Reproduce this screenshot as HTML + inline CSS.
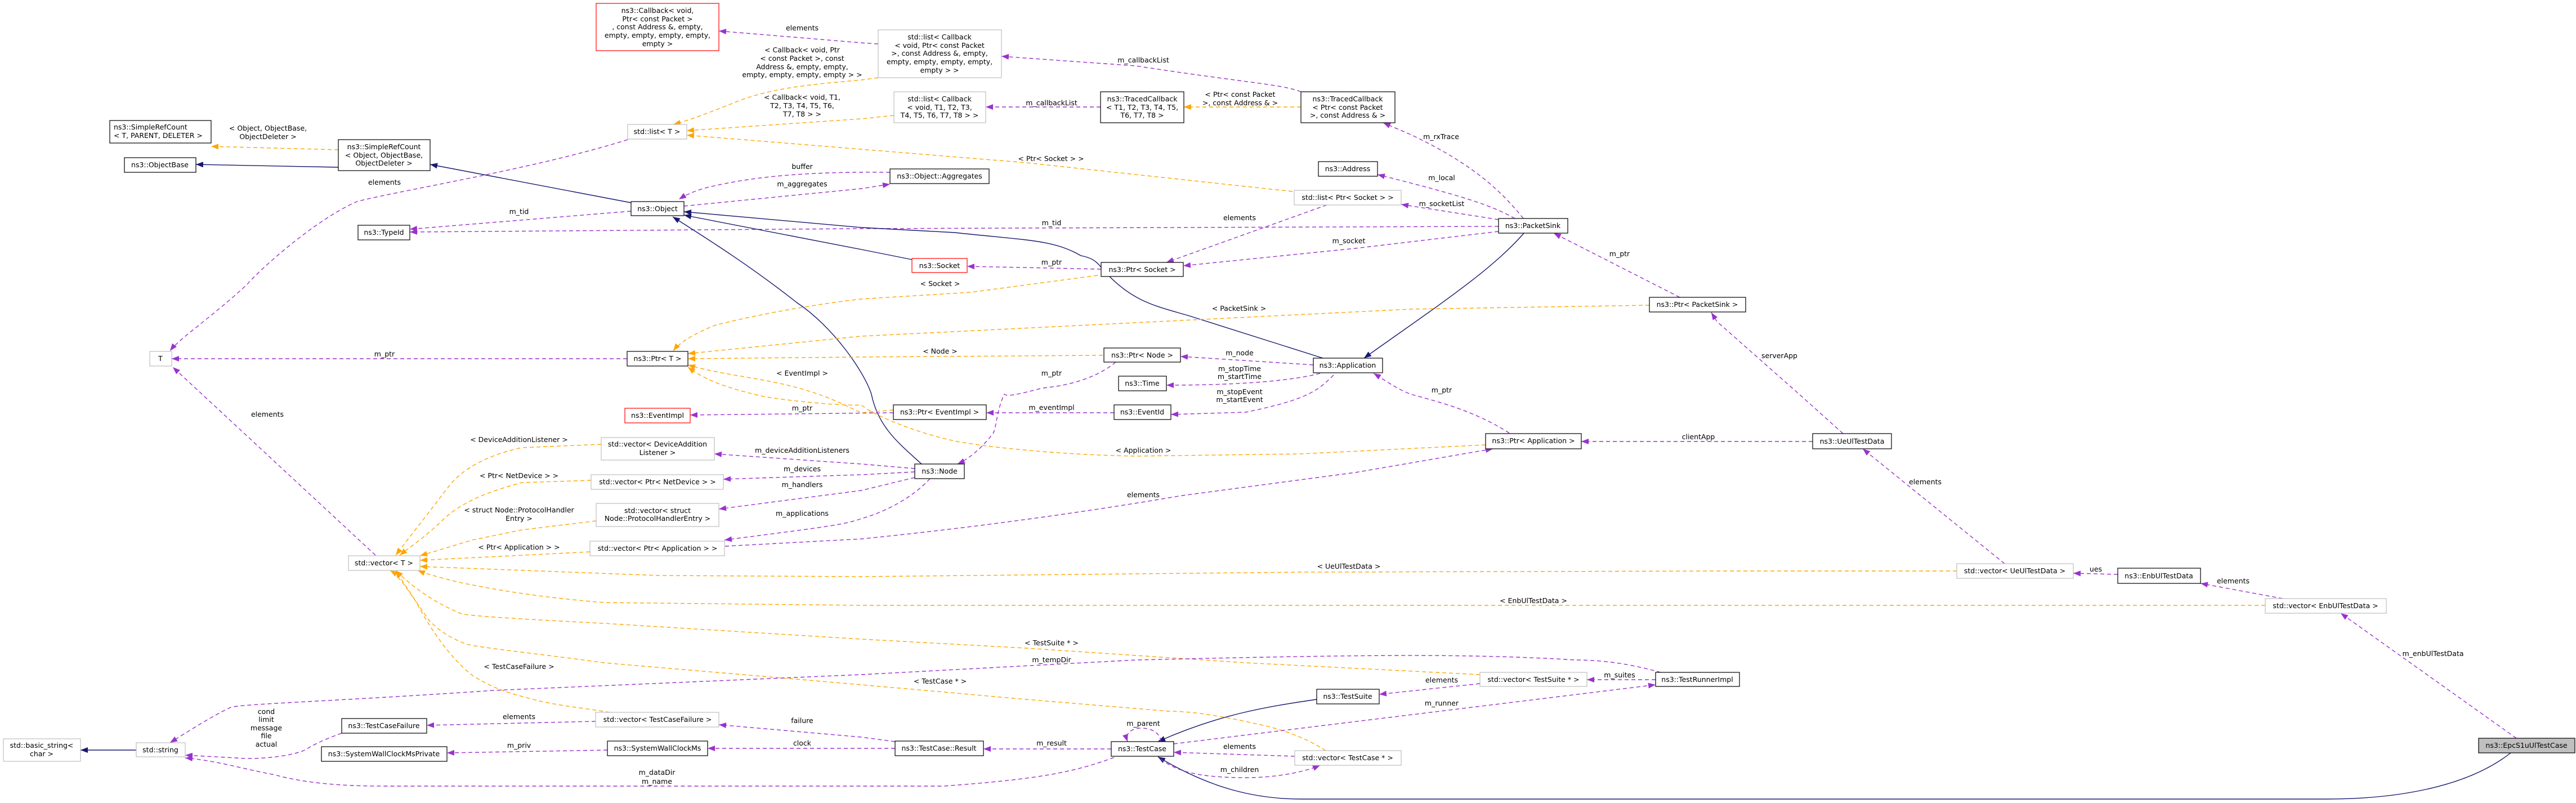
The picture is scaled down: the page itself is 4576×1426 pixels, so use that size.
<!DOCTYPE html>
<html><head><meta charset="utf-8"><style>
html,body{margin:0;padding:0;background:#fff}
svg{display:block}
text{font-family:"DejaVu Sans","Liberation Sans",sans-serif;font-size:12.5px;fill:#000}
.nd text,.l{text-anchor:middle}
.b{fill:#fff;stroke:#000;stroke-width:1.2}
.g{fill:#fff;stroke:#bfbfbf;stroke-width:1.2}
.r{fill:#fff;stroke:#ff0000;stroke-width:1.2}
.p{fill:none;stroke:#9a32cd;stroke-width:1.4;stroke-dasharray:7,5;marker-end:url(#mp)}
.o{fill:none;stroke:#ffa500;stroke-width:1.4;stroke-dasharray:7,5;marker-end:url(#mo)}
.n{fill:none;stroke:#191970;stroke-width:1.4;marker-end:url(#mn)}
</style></head><body>
<svg width="4576" height="1426" viewBox="0 0 4576 1426" xmlns="http://www.w3.org/2000/svg">
<defs>
<marker id="mp" markerUnits="userSpaceOnUse" markerWidth="13" markerHeight="10" refX="13" refY="5" orient="auto"><path d="M0,0L13,5L0,10z" fill="#9a32cd"/></marker>
<marker id="mo" markerUnits="userSpaceOnUse" markerWidth="13" markerHeight="10" refX="13" refY="5" orient="auto"><path d="M0,0L13,5L0,10z" fill="#ffa500"/></marker>
<marker id="mn" markerUnits="userSpaceOnUse" markerWidth="13" markerHeight="10" refX="13" refY="5" orient="auto"><path d="M0,0L13,5L0,10z" fill="#191970"/></marker>
</defs>

<!-- edges -->
<path class="o" d="M601,266 L375,260"/>
<path class="n" d="M601,297 L348,292"/>
<path class="n" d="M1121,360 L764,292"/>
<path class="p" d="M1115,248 C950,300 700,340 634,358 C560,390 460,480 439,505 C380,560 320,600 302,623"/>
<path class="p" d="M667,986 L361,702 L307,652"/>
<path class="p" d="M1114,637 L305,637"/>
<path class="p" d="M1121,375 L728,407"/>
<path class="p" d="M2662,402 L1530,406 L728,412"/>
<path class="p" d="M1581,306 C1480,305 1366,308 1269,330 C1240,336 1220,345 1206,354"/>
<path class="p" d="M1215,366 L1530,335 L1581,327"/>
<path class="n" d="M1637,824 C1600,790 1560,760 1548,700 C1535,660 1480,580 1415,537 C1330,470 1250,420 1195,385"/>
<path class="n" d="M1620,461 L1530,443 L1215,382"/>
<path class="n" d="M2350,636 L2116,562 C2060,545 2018,539 1970,490 C1950,470 1950,460 1920,454 C1870,425 1823,427 1696,413 L1530,404 L1215,376"/>
<path class="n" d="M2707,414 C2650,480 2555,542 2423,636"/>
<path class="n" d="M2339,1242 C2250,1255 2164,1269 2057,1317"/>
<path class="n" d="M4460,1337 C4380,1400 4250,1419 4133,1419 L2311,1419 C2230,1419 2150,1400 2057,1344"/>

<path class="o" d="M1560,138 L1530,142 C1440,150 1366,156 1300,184 C1260,200 1220,215 1196,221"/>
<path class="o" d="M1588,205 L1530,211 L1220,232"/>
<path class="o" d="M2296,340 L1823,289 L1530,265 L1220,240"/>
<path class="p" d="M1560,78 L1530,76 L1277,55"/>
<path class="p" d="M2311,163 C2280,150 2213,147 2018,117 L1779,100"/>
<path class="p" d="M1955,190 L1751,190"/>
<path class="o" d="M2311,190 L2103,190"/>
<path class="p" d="M2706,388 C2660,330 2603,285 2506,239 L2457,218"/>
<path class="p" d="M2691,388 C2650,365 2603,349 2447,310"/>
<path class="p" d="M2662,390 L2489,363"/>
<path class="p" d="M2357,364 L2072,466"/>
<path class="p" d="M2662,411 L2408,441 L2102,472"/>
<path class="p" d="M1956,478 L1718,473"/>
<path class="o" d="M1950,489 L1725,519 L1530,531 C1400,546 1300,570 1269,578 C1240,590 1210,605 1196,623"/>
<path class="o" d="M2930,542 L2506,549 L1530,597 L1222,628"/>
<path class="p" d="M2984,528 L2760,414"/>
<path class="p" d="M3274,770 L3196,700 L3050,571 L3040,555"/>
<path class="o" d="M1959,631 L1530,634 L1222,637"/>
<path class="p" d="M2333,648 L2097,633"/>
<path class="p" d="M2345,663 C2300,675 2213,684 2072,684"/>
<path class="p" d="M2369,666 C2340,695 2320,710 2213,732 L2080,736"/>
<path class="p" d="M1982,643 C1950,670 1900,685 1852,689 C1810,700 1790,705 1784,700 C1770,730 1770,760 1764,770 C1740,800 1720,815 1701,824"/>
<path class="p" d="M1587,733 L1226,737"/>
<path class="p" d="M1979,733 L1752,733"/>
<path class="o" d="M1587,728 L1530,733 C1500,720 1460,695 1366,677 C1320,668 1260,660 1222,648"/>
<path class="o" d="M2639,790 L2311,806 L2018,810 C1900,808 1774,797 1700,784 C1628,769 1550,737 1530,719 C1500,722 1380,710 1347,702 C1300,690 1260,680 1222,652"/>
<path class="p" d="M2681,769 C2620,730 2560,715 2506,700 C2480,690 2460,675 2440,663"/>
<path class="p" d="M3220,784 L2809,784"/>
<path class="p" d="M1288,970 L1530,957 C1800,930 2018,894 2100,880 L2408,839 L2652,797"/>
<path class="p" d="M1625,832 L1530,824 L1269,806"/>
<path class="p" d="M1625,838 L1530,843 L1285,851"/>
<path class="p" d="M1625,848 L1530,871 L1277,904"/>
<path class="p" d="M1652,850 C1620,885 1570,910 1530,921 C1500,932 1464,936 1287,959"/>

<path class="o" d="M1068,789 L927,795 C880,805 830,825 800,860 C770,900 730,950 703,986"/>
<path class="o" d="M1050,853 L927,857 C880,870 830,885 790,920 C760,950 730,970 710,986"/>
<path class="o" d="M1059,925 L927,941 L839,959 L746,987"/>
<path class="o" d="M1048,980 L746,995"/>
<path class="o" d="M3476,1014 L3060,1014 L2311,1016 L1530,1024 L1171,1022 L746,1006"/>
<path class="o" d="M4024,1075 L1530,1075 L1073,1070 C950,1060 880,1047 820,1035 C790,1028 760,1020 742,1013"/>
<path class="o" d="M2629,1198 L2213,1177 L1823,1151 L1530,1135 L1073,1107 C900,1098 840,1094 820,1090 C770,1070 730,1040 703,1013"/>
<path class="o" d="M2355,1333 C2320,1310 2280,1297 2252,1290 C2180,1273 2120,1263 2076,1263 L1823,1242 L1530,1216 L1073,1177 C950,1160 850,1150 829,1144 C790,1130 770,1110 761,1100 C740,1070 720,1040 703,1013"/>
<path class="o" d="M1083,1265 C1020,1255 976,1251 940,1240 C900,1230 878,1223 840,1200 C800,1170 760,1110 740,1070 C720,1040 705,1020 693,1013"/>

<path class="p" d="M1058,1281 L758,1288"/>
<path class="p" d="M1590,1317 L1530,1309 L1277,1287"/>
<path class="p" d="M1590,1329 L1257,1329"/>
<path class="p" d="M1079,1332 L794,1337"/>
<path class="p" d="M607,1302 C580,1312 561,1320 545,1330 C530,1340 470,1350 420,1346 L329,1341"/>
<path class="p" d="M1979,1345 C1900,1375 1823,1385 1676,1396 L683,1396 C600,1396 540,1390 488,1376 C430,1365 380,1350 329,1346"/>
<path class="n" d="M242,1332 L143,1332"/>
<path class="p" d="M2950,1194 C2900,1180 2850,1172 2799,1172 C2600,1160 2408,1163 2018,1172 L1530,1198 L878,1226 C600,1245 430,1250 410,1256 C380,1270 340,1295 302,1319"/>
<path class="p" d="M1974,1330 L1747,1330"/>
<path class="p" d="M2062,1317 C2062,1302 2045,1293 2028,1293 C2010,1293 1998,1302 2003,1317"/>
<path class="p" d="M2300,1343 L2085,1336"/>
<path class="p" d="M2062,1348 C2090,1370 2130,1381 2213,1381 C2270,1381 2320,1370 2345,1359"/>
<path class="p" d="M2085,1321 L2941,1216"/>
<path class="p" d="M2629,1214 L2450,1233"/>
<path class="p" d="M2941,1207 L2819,1207"/>
<path class="p" d="M3561,1001 L3309,797"/>
<path class="p" d="M3762,1020 L3683,1018"/>
<path class="p" d="M4055,1063 L3909,1036"/>
<path class="p" d="M4470,1311 L4158,1089"/>

<!-- edge labels -->
<g class="l">
<text x="476" y="232">&lt; Object, ObjectBase,</text><text x="476" y="247">ObjectDeleter &gt;</text>
<text x="683" y="328">elements</text>
<text x="475" y="740">elements</text>
<text x="683" y="633">m_ptr</text>
<text x="922" y="380">m_tid</text>
<text x="1868" y="400">m_tid</text>
<text x="1425" y="300">buffer</text>
<text x="1425" y="331">m_aggregates</text>
<text x="1425" y="54">elements</text>
<text x="1425" y="93">&lt; Callback&lt; void, Ptr</text>
<text x="1425" y="108">&lt; const Packet &gt;, const</text>
<text x="1425" y="123">Address &amp;, empty, empty,</text>
<text x="1425" y="137">empty, empty, empty, empty &gt; &gt;</text>
<text x="1425" y="177">&lt; Callback&lt; void, T1,</text>
<text x="1425" y="192">T2, T3, T4, T5, T6,</text>
<text x="1425" y="207">T7, T8 &gt; &gt;</text>
<text x="1867" y="286">&lt; Ptr&lt; Socket &gt; &gt;</text>
<text x="2031" y="111">m_callbackList</text>
<text x="1868" y="187">m_callbackList</text>
<text x="2203" y="172">&lt; Ptr&lt; const Packet</text>
<text x="2203" y="187">&gt;, const Address &amp; &gt;</text>
<text x="2560" y="247">m_rxTrace</text>
<text x="2561" y="320">m_local</text>
<text x="2561" y="366">m_socketList</text>
<text x="2202" y="391">elements</text>
<text x="2396" y="432">m_socket</text>
<text x="1868" y="470">m_ptr</text>
<text x="1670" y="508">&lt; Socket &gt;</text>
<text x="2201" y="552">&lt; PacketSink &gt;</text>
<text x="2877" y="455">m_ptr</text>
<text x="3161" y="636">serverApp</text>
<text x="1670" y="628">&lt; Node &gt;</text>
<text x="2202" y="631">m_node</text>
<text x="2202" y="659">m_stopTime</text><text x="2202" y="673">m_startTime</text>
<text x="2202" y="700">m_stopEvent</text><text x="2202" y="714">m_startEvent</text>
<text x="1868" y="667">m_ptr</text>
<text x="1425" y="729">m_ptr</text>
<text x="1868" y="728">m_eventImpl</text>
<text x="1425" y="667">&lt; EventImpl &gt;</text>
<text x="2031" y="804">&lt; Application &gt;</text>
<text x="2561" y="697">m_ptr</text>
<text x="3017" y="780">clientApp</text>
<text x="2031" y="883">elements</text>
<text x="1425" y="804">m_deviceAdditionListeners</text>
<text x="1425" y="837">m_devices</text>
<text x="1425" y="865">m_handlers</text>
<text x="1425" y="916">m_applications</text>
<text x="922" y="785">&lt; DeviceAdditionListener &gt;</text>
<text x="922" y="849">&lt; Ptr&lt; NetDevice &gt; &gt;</text>
<text x="922" y="910">&lt; struct Node::ProtocolHandler</text><text x="922" y="925">Entry &gt;</text>
<text x="922" y="976">&lt; Ptr&lt; Application &gt; &gt;</text>
<text x="2396" y="1010">&lt; UeUlTestData &gt;</text>
<text x="2724" y="1071">&lt; EnbUlTestData &gt;</text>
<text x="1868" y="1146">&lt; TestSuite * &gt;</text>
<text x="1670" y="1214">&lt; TestCase * &gt;</text>
<text x="922" y="1188">&lt; TestCaseFailure &gt;</text>
<text x="922" y="1277">elements</text>
<text x="1425" y="1284">failure</text>
<text x="1425" y="1324">clock</text>
<text x="922" y="1328">m_priv</text>
<text x="473" y="1268">cond</text><text x="473" y="1282">limit</text><text x="473" y="1297">message</text><text x="473" y="1311">file</text><text x="473" y="1326">actual</text>
<text x="1167" y="1376">m_dataDir</text><text x="1167" y="1392">m_name</text>
<text x="1868" y="1176">m_tempDir</text>
<text x="1868" y="1324">m_result</text>
<text x="2031" y="1289">m_parent</text>
<text x="2202" y="1330">elements</text>
<text x="2202" y="1371">m_children</text>
<text x="2561" y="1253">m_runner</text>
<text x="2561" y="1212">elements</text>
<text x="2877" y="1203">m_suites</text>
<text x="3420" y="860">elements</text>
<text x="3723" y="1015">ues</text>
<text x="3967" y="1036">elements</text>
<text x="4322" y="1165">m_enbUlTestData</text>
</g>

<!-- nodes -->
<g class="nd">
<rect class="r" x="1059" y="6" width="218" height="84"/>
<text x="1168" y="23">ns3::Callback&lt; void,</text><text x="1168" y="38">Ptr&lt; const Packet &gt;</text><text x="1168" y="52">, const Address &amp;, empty,</text><text x="1168" y="67">empty, empty, empty, empty,</text><text x="1168" y="82">empty &gt;</text>

<rect class="b" x="195" y="214" width="180" height="40"/>
<text x="202" y="230" style="text-anchor:start">ns3::SimpleRefCount</text><text x="202" y="245" style="text-anchor:start">&lt; T, PARENT, DELETER &gt;</text>

<rect class="b" x="221" y="280" width="127" height="26"/><text x="284" y="297">ns3::ObjectBase</text>

<rect class="b" x="601" y="248" width="163" height="55"/>
<text x="682" y="265">ns3::SimpleRefCount</text><text x="682" y="280">&lt; Object, ObjectBase,</text><text x="682" y="294">ObjectDeleter &gt;</text>

<rect class="g" x="1115" y="221" width="105" height="26"/><text x="1167" y="238">std::list&lt; T &gt;</text>
<rect class="b" x="1121" y="358" width="94" height="25"/><text x="1168" y="375">ns3::Object</text>
<rect class="b" x="636" y="400" width="92" height="26"/><text x="682" y="417">ns3::TypeId</text>
<rect class="g" x="266" y="624" width="39" height="26"/><text x="285" y="641">T</text>
<rect class="b" x="1114" y="624" width="108" height="26"/><text x="1168" y="641">ns3::Ptr&lt; T &gt;</text>

<rect class="g" x="1560" y="53" width="219" height="85"/>
<text x="1669" y="70">std::list&lt; Callback</text><text x="1669" y="85">&lt; void, Ptr&lt; const Packet</text><text x="1669" y="99">&gt;, const Address &amp;, empty,</text><text x="1669" y="114">empty, empty, empty, empty,</text><text x="1669" y="129">empty &gt; &gt;</text>

<rect class="g" x="1588" y="163" width="163" height="55"/>
<text x="1669" y="180">std::list&lt; Callback</text><text x="1669" y="195">&lt; void, T1, T2, T3,</text><text x="1669" y="209">T4, T5, T6, T7, T8 &gt; &gt;</text>

<rect class="b" x="1955" y="163" width="148" height="55"/>
<text x="2029" y="180">ns3::TracedCallback</text><text x="2029" y="195">&lt; T1, T2, T3, T4, T5,</text><text x="2029" y="209">T6, T7, T8 &gt;</text>

<rect class="b" x="2311" y="163" width="167" height="55"/>
<text x="2394" y="180">ns3::TracedCallback</text><text x="2394" y="195">&lt; Ptr&lt; const Packet</text><text x="2394" y="209">&gt;, const Address &amp; &gt;</text>

<rect class="b" x="1581" y="300" width="176" height="26"/><text x="1669" y="317">ns3::Object::Aggregates</text>
<rect class="b" x="2342" y="287" width="105" height="26"/><text x="2394" y="304">ns3::Address</text>
<rect class="g" x="2299" y="338" width="190" height="26"/><text x="2394" y="355">std::list&lt; Ptr&lt; Socket &gt; &gt;</text>
<rect class="b" x="2662" y="388" width="123" height="26"/><text x="2723" y="405">ns3::PacketSink</text>
<rect class="r" x="1620" y="459" width="98" height="25"/><text x="1669" y="476">ns3::Socket</text>
<rect class="b" x="1956" y="466" width="146" height="25"/><text x="2029" y="483">ns3::Ptr&lt; Socket &gt;</text>
<rect class="b" x="2930" y="528" width="171" height="26"/><text x="3015" y="545">ns3::Ptr&lt; PacketSink &gt;</text>
<rect class="b" x="1961" y="618" width="136" height="25"/><text x="2029" y="635">ns3::Ptr&lt; Node &gt;</text>
<rect class="b" x="2333" y="636" width="123" height="26"/><text x="2394" y="653">ns3::Application</text>
<rect class="b" x="1987" y="668" width="85" height="26"/><text x="2029" y="685">ns3::Time</text>
<rect class="r" x="1110" y="725" width="116" height="26"/><text x="1168" y="742">ns3::EventImpl</text>

<rect class="g" x="1068" y="777" width="201" height="40"/>
<text x="1168" y="793">std::vector&lt; DeviceAddition</text><text x="1168" y="808">Listener &gt;</text>
<rect class="g" x="1050" y="843" width="235" height="26"/><text x="1168" y="860">std::vector&lt; Ptr&lt; NetDevice &gt; &gt;</text>
<rect class="g" x="1059" y="894" width="218" height="41"/>
<text x="1168" y="911">std::vector&lt; struct</text><text x="1168" y="925">Node::ProtocolHandlerEntry &gt;</text>
<rect class="g" x="1048" y="961" width="239" height="26"/><text x="1168" y="978">std::vector&lt; Ptr&lt; Application &gt; &gt;</text>
<rect class="g" x="619" y="987" width="127" height="26"/><text x="682" y="1004">std::vector&lt; T &gt;</text>

<rect class="g" x="6" y="1312" width="137" height="40"/>
<text x="74" y="1328">std::basic_string&lt;</text><text x="74" y="1343">char &gt;</text>
<rect class="g" x="242" y="1319" width="87" height="25"/><text x="285" y="1336">std::string</text>
<rect class="b" x="607" y="1276" width="151" height="26"/><text x="682" y="1293">ns3::TestCaseFailure</text>
<rect class="b" x="571" y="1326" width="223" height="26"/><text x="682" y="1343">ns3::SystemWallClockMsPrivate</text>
<rect class="g" x="1058" y="1265" width="219" height="26"/><text x="1168" y="1282">std::vector&lt; TestCaseFailure &gt;</text>
<rect class="b" x="1079" y="1316" width="178" height="26"/><text x="1168" y="1333">ns3::SystemWallClockMs</text>

<rect class="b" x="1587" y="719" width="165" height="26"/><text x="1669" y="736">ns3::Ptr&lt; EventImpl &gt;</text>
<rect class="b" x="1979" y="719" width="101" height="26"/><text x="2029" y="736">ns3::EventId</text>
<rect class="b" x="1625" y="824" width="88" height="26"/><text x="1669" y="841">ns3::Node</text>
<rect class="b" x="2639" y="770" width="170" height="27"/><text x="2724" y="787">ns3::Ptr&lt; Application &gt;</text>
<rect class="b" x="1590" y="1316" width="157" height="26"/><text x="1668" y="1333">ns3::TestCase::Result</text>
<rect class="b" x="1974" y="1317" width="111" height="26"/><text x="2029" y="1334">ns3::TestCase</text>
<rect class="b" x="2339" y="1224" width="111" height="26"/><text x="2394" y="1241">ns3::TestSuite</text>
<rect class="g" x="2629" y="1194" width="190" height="25"/><text x="2724" y="1211">std::vector&lt; TestSuite * &gt;</text>
<rect class="b" x="2941" y="1194" width="149" height="25"/><text x="3015" y="1211">ns3::TestRunnerImpl</text>
<rect class="g" x="2300" y="1333" width="189" height="26"/><text x="2394" y="1350">std::vector&lt; TestCase * &gt;</text>

<rect class="b" x="3220" y="770" width="140" height="27"/><text x="3290" y="788">ns3::UeUlTestData</text>
<rect class="g" x="3476" y="1001" width="207" height="26"/><text x="3579" y="1018">std::vector&lt; UeUlTestData &gt;</text>
<rect class="b" x="3762" y="1009" width="147" height="27"/><text x="3835" y="1027">ns3::EnbUlTestData</text>
<rect class="g" x="4024" y="1063" width="215" height="26"/><text x="4131" y="1080">std::vector&lt; EnbUlTestData &gt;</text>
<rect x="4403" y="1311" width="171" height="26" fill="#bfbfbf" stroke="#000" stroke-width="1.2"/><text x="4488" y="1328">ns3::EpcS1uUlTestCase</text>
</g>
</svg>
</body></html>
